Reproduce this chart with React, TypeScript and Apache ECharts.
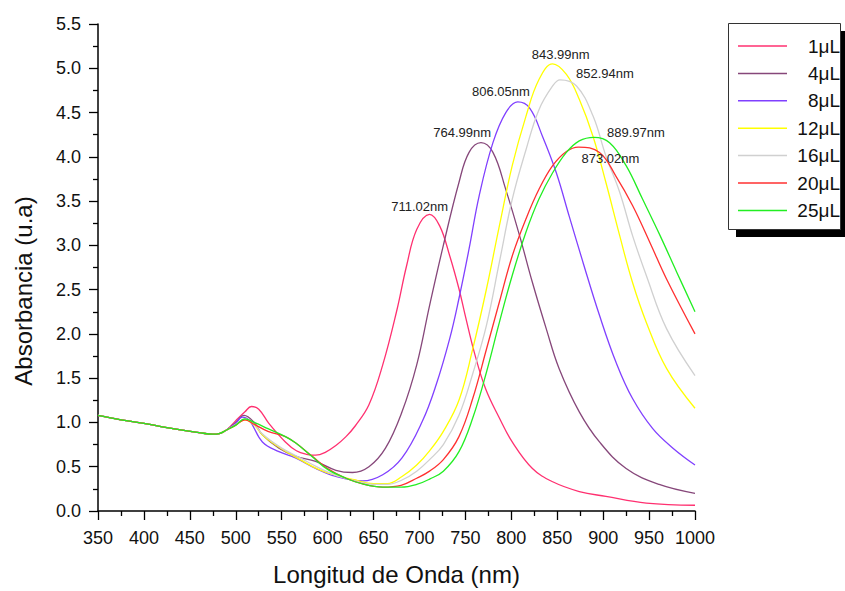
import React, { useEffect, useRef } from "react";
import * as echarts from "echarts";

const seriesNames = ["1μL", "4μL", "8μL", "12μL", "16μL", "20μL", "25μL"];
const seriesColors = ["#ff3070", "#86477a", "#8040ff", "#ffff00", "#d0d0d0", "#ff3030", "#22ee22"];

// shared baseline below 500 nm
const baseWl = [350, 375, 400, 420, 440, 460, 475, 482, 490];
const baseAbs = [1.08, 1.03, 0.99, 0.95, 0.915, 0.885, 0.868, 0.875, 0.915];

const wl1 = [500, 510, 517, 525, 536, 554, 566, 577, 587, 597, 609, 620, 630, 645, 660, 675, 686, 697, 711, 722, 733, 743, 750, 760, 772, 787, 801, 823, 845, 874, 903, 947, 1000];
const abs1 = [1.02, 1.12, 1.18, 1.15, 0.99, 0.78, 0.68, 0.64, 0.63, 0.66, 0.74, 0.84, 0.96, 1.2, 1.65, 2.25, 2.77, 3.18, 3.35, 3.22, 2.88, 2.51, 2.2, 1.78, 1.38, 1.05, 0.78, 0.48, 0.33, 0.22, 0.165, 0.09, 0.065];

const wl4 = [500, 509, 520, 529, 547, 565, 587, 609, 627, 645, 663, 681, 697, 711, 726, 743, 754, 767, 780, 794, 809, 823, 838, 852, 874, 896, 925, 961, 1000];
const abs4 = [1.0, 1.08, 1.0, 0.86, 0.71, 0.62, 0.56, 0.46, 0.435, 0.5, 0.71, 1.12, 1.65, 2.32, 3.0, 3.71, 4.05, 4.16, 4.05, 3.63, 3.11, 2.58, 2.06, 1.61, 1.12, 0.78, 0.48, 0.3, 0.2];

const wl8 = [500, 507, 515, 529, 547, 565, 587, 609, 638, 660, 681, 703, 718, 733, 743, 754, 765, 780, 794, 807, 820, 834, 849, 863, 878, 896, 914, 932, 954, 976, 1000];
const abs8 = [0.99, 1.06, 1.02, 0.78, 0.67, 0.6, 0.48, 0.39, 0.34, 0.41, 0.6, 1.01, 1.42, 1.95, 2.4, 2.96, 3.56, 4.16, 4.5, 4.62, 4.55, 4.23, 3.82, 3.33, 2.81, 2.21, 1.68, 1.27, 0.93, 0.71, 0.52];

const wl12 = [500, 510, 520, 530, 550, 570, 590, 610, 630, 650, 665, 681, 697, 711, 726, 743, 758, 773, 787, 801, 816, 830, 845, 860, 874, 889, 903, 918, 932, 947, 969, 1000];
const abs12 = [0.97, 1.03, 0.97, 0.85, 0.7, 0.58, 0.47, 0.4, 0.35, 0.31, 0.31, 0.39, 0.52, 0.68, 0.9, 1.25, 1.83, 2.51, 3.22, 3.9, 4.46, 4.87, 5.05, 4.93, 4.65, 4.23, 3.71, 3.11, 2.58, 2.13, 1.61, 1.16];

const wl16 = [500, 510, 520, 530, 550, 570, 590, 610, 630, 650, 665, 681, 697, 711, 726, 743, 758, 773, 787, 801, 816, 830, 845, 853, 871, 889, 903, 918, 932, 947, 969, 1000];
const abs16 = [0.98, 1.04, 0.98, 0.86, 0.71, 0.6, 0.49, 0.4, 0.34, 0.3, 0.3, 0.35, 0.45, 0.58, 0.75, 1.08, 1.55, 2.1, 2.81, 3.52, 4.08, 4.53, 4.8, 4.87, 4.8, 4.46, 4.01, 3.6, 3.11, 2.66, 2.06, 1.53];

const wl20 = [500, 510, 520, 535, 554, 565, 583, 600, 620, 640, 660, 680, 697, 711, 726, 743, 758, 773, 787, 801, 816, 830, 845, 860, 873, 896, 914, 932, 951, 969, 1000];
const abs20 = [0.97, 1.03, 0.98, 0.9, 0.84, 0.77, 0.62, 0.48, 0.37, 0.3, 0.27, 0.29, 0.37, 0.45, 0.58, 0.84, 1.27, 1.83, 2.36, 2.88, 3.3, 3.63, 3.9, 4.06, 4.11, 4.05, 3.78, 3.45, 3.03, 2.62, 2.0];

const wl25 = [500, 510, 520, 535, 554, 565, 583, 600, 620, 640, 660, 680, 697, 711, 726, 743, 758, 773, 787, 801, 816, 830, 845, 860, 874, 890, 907, 925, 943, 962, 980, 1000];
const abs25 = [0.97, 1.04, 1.0, 0.93, 0.84, 0.77, 0.615, 0.47, 0.37, 0.3, 0.27, 0.27, 0.3, 0.36, 0.45, 0.67, 1.05, 1.57, 2.13, 2.66, 3.15, 3.52, 3.82, 4.05, 4.18, 4.22, 4.16, 3.9, 3.52, 3.11, 2.7, 2.25];

const allWl = [wl1, wl4, wl8, wl12, wl16, wl20, wl25];
const allAbs = [abs1, abs4, abs8, abs12, abs16, abs20, abs25];

const peakWl = [711.02, 764.99, 806.05, 843.99, 852.94, 873.02, 889.97];
const peakAbs = [3.35, 4.16, 4.62, 5.05, 4.87, 4.11, 4.22];
const peakSeries = [0, 1, 2, 3, 4, 5, 6];
const peakLabels = ["711.02nm", "764.99nm", "806.05nm", "843.99nm", "852.94nm", "873.02nm", "889.97nm"];

const xTicksMin = 350;
const xTicksMax = 1000;
const yTicksMin = 0;
const yTicksMax = 5.5;

const FONT = "'Liberation Sans', Arial, Helvetica, sans-serif";

export default function App() {
  const ref = useRef<HTMLDivElement>(null);
  useEffect(() => {
    if (!ref.current) return;
    const chart = echarts.init(ref.current, null, { renderer: "svg" });
    const labelOffsets: number[][] = [
      [-10, -8],
      [-17, -10],
      [-16, -10],
      [9, -9],
      [45, -6],
      [32, 11],
      [42, -5],
    ];
    const series = seriesNames.map((name, i) => {
      const data: number[][] = [];
      baseWl.forEach((w, k) => data.push([w, baseAbs[k]]));
      allWl[i].forEach((w, k) => data.push([w, allAbs[i][k]]));
      const mpData: any[] = [];
      peakSeries.forEach((s, k) => {
        if (s === i) {
          mpData.push({
            coord: [peakWl[k], peakAbs[k]],
            label: { formatter: peakLabels[k], offset: labelOffsets[k] },
          });
        }
      });
      return {
        name,
        type: "line",
        data,
        smooth: 0.4,
        symbol: "none",
        lineStyle: { color: seriesColors[i], width: 1.3 },
        itemStyle: { color: seriesColors[i] },
        z: 2,
        markPoint: {
          symbol: "circle",
          symbolSize: 1,
          itemStyle: { color: "rgba(0,0,0,0)" },
          label: {
            show: true,
            position: "inside",
            color: "#222",
            fontSize: 13,
            fontFamily: FONT,
          },
          data: mpData,
        },
      };
    });
    chart.setOption({
      animation: false,
      backgroundColor: "#ffffff",
      textStyle: { fontFamily: FONT },
      grid: { left: 98, top: 24, width: 597, height: 489 },
      xAxis: {
        type: "value",
        min: xTicksMin,
        max: xTicksMax,
        interval: 50,
        name: "Longitud de Onda (nm)",
        nameLocation: "middle",
        nameGap: 51,
        nameTextStyle: { fontSize: 24, color: "#111", fontFamily: FONT },
        axisLine: { lineStyle: { color: "#000", width: 1.5 } },
        axisTick: { length: 9, lineStyle: { color: "#000", width: 1.3 } },
        minorTick: { show: true, splitNumber: 2, length: 5, lineStyle: { color: "#000", width: 1.3 } },
        axisLabel: {
          fontSize: 18,
          color: "#111",
          margin: 18,
          fontFamily: FONT,
          formatter: (v: number) => String(v),
        },
        splitLine: { show: false },
      },
      yAxis: {
        type: "value",
        min: yTicksMin,
        max: yTicksMax,
        interval: 0.5,
        name: "Absorbancia (u.a)",
        nameLocation: "middle",
        nameGap: 63,
        nameTextStyle: { fontSize: 24, color: "#111", fontFamily: FONT, padding: [0, 47, 0, 0] },
        axisLine: { show: true, lineStyle: { color: "#000", width: 1.5 } },
        axisTick: { show: true, length: 9, lineStyle: { color: "#000", width: 1.3 } },
        minorTick: { show: true, splitNumber: 2, length: 5, lineStyle: { color: "#000", width: 1.3 } },
        axisLabel: {
          fontSize: 18,
          color: "#111",
          margin: 17,
          fontFamily: FONT,
          formatter: (v: number) => v.toFixed(1),
        },
        splitLine: { show: false },
      },
      legend: {
        orient: "vertical",
        left: 733,
        top: 31,
        itemWidth: 49,
        itemHeight: 1.5,
        itemGap: 7.4,
        icon: "rect",
        z: 10,
        data: seriesNames,
        formatter: (n: string) => `{t|${n}}`,
        textStyle: {
          rich: {
            t: { width: 48, height: 20, align: "right", fontSize: 19, lineHeight: 20, color: "#111", fontFamily: FONT },
          },
        },
      },
      graphic: [
        { type: "rect", z: 0, shape: { x: 736, y: 31, width: 112, height: 206 }, style: { fill: "#000" } },
        {
          type: "rect",
          z: 1,
          shape: { x: 728.5, y: 23.5, width: 112, height: 206 },
          style: { fill: "#fff", stroke: "#333", lineWidth: 1 },
        },
      ],
      series,
    });
    return () => chart.dispose();
  }, []);
  return (
    <div
      ref={ref}
      style={{ position: "fixed", left: 0, top: 0, width: 845, height: 591, background: "#fff" }}
    />
  );
}
